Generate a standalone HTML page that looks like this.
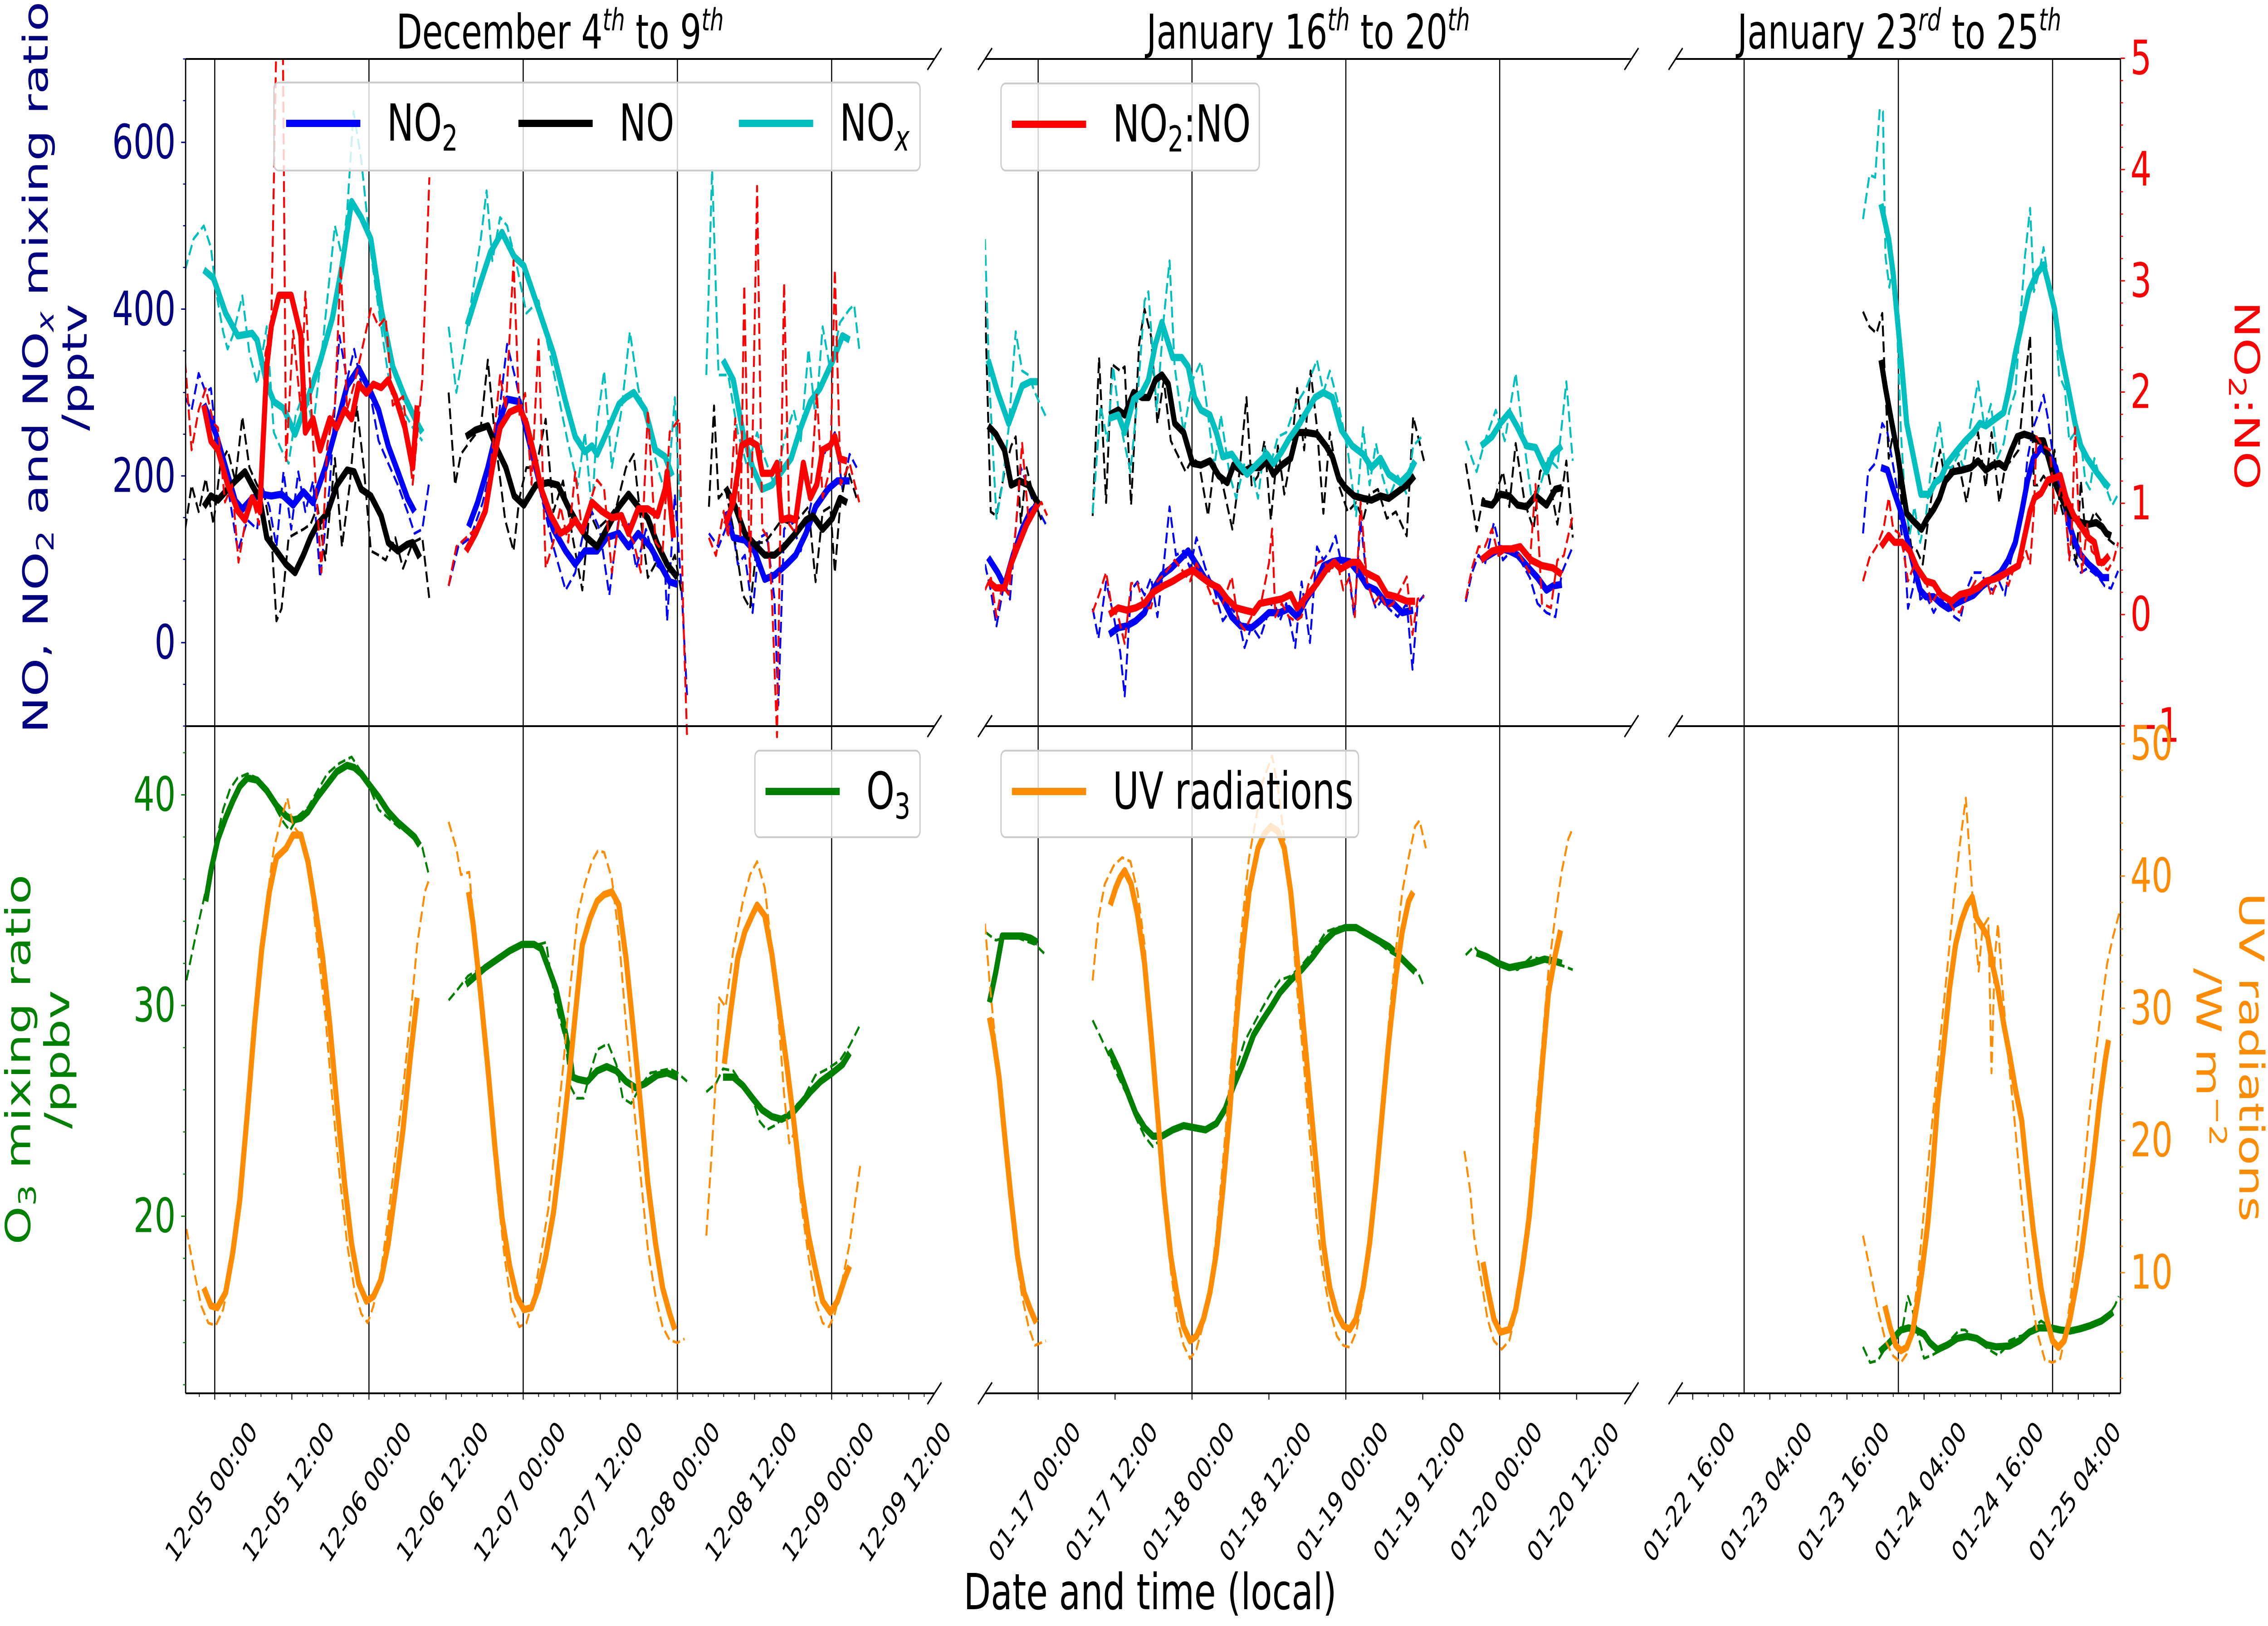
<!DOCTYPE html>
<html><head><meta charset="utf-8"><style>
html,body{margin:0;padding:0;background:#fff;overflow:hidden;width:100vw;height:100vh;}
svg{display:block;width:100vw;height:100vh;font-family:"DejaVu Sans","Liberation Sans",sans-serif;}
</style></head><body>
<svg id="chart" xmlns="http://www.w3.org/2000/svg" viewBox="0 0 7087 3585" preserveAspectRatio="none">
<defs>
<clipPath id="c1"><rect x="580" y="130" width="2340" height="2942"/></clipPath>
<clipPath id="c2"><rect x="3078" y="130" width="2020" height="2942"/></clipPath>
<clipPath id="c3"><rect x="5236" y="130" width="1390" height="2942"/></clipPath>
</defs>
<g id="grid"></g>
<g id="series"></g>
<g id="axes"></g>
<g font-size="105" fill="#000" text-anchor="middle">
<text x="1750" y="107">December 4<tspan dy="-40" font-size="68" font-style="italic">th</tspan><tspan dy="40"> to 9</tspan><tspan dy="-40" font-size="68" font-style="italic">th</tspan></text>
<text x="4088" y="107">January 16<tspan dy="-40" font-size="68" font-style="italic">th</tspan><tspan dy="40"> to 20</tspan><tspan dy="-40" font-size="68" font-style="italic">th</tspan></text>
<text x="5935" y="107">January 23<tspan dy="-40" font-size="68" font-style="italic">rd</tspan><tspan dy="40"> to 25</tspan><tspan dy="-40" font-size="68" font-style="italic">th</tspan></text>
</g>
<g font-size="108">
<text transform="translate(149,810) rotate(-90)" text-anchor="middle" fill="#000080">NO, NO<tspan font-size="75" dy="18">2</tspan><tspan dy="-18"> and NO</tspan><tspan font-size="75" font-style="italic" dy="18">x</tspan><tspan dy="-18"> mixing ratio</tspan></text>
<text transform="translate(271,810) rotate(-90)" text-anchor="middle" fill="#000080">/pptv</text>
<text transform="translate(94,2336) rotate(-90)" text-anchor="middle" fill="#008000">O<tspan font-size="75" dy="18">3</tspan><tspan dy="-18"> mixing ratio</tspan></text>
<text transform="translate(216,2336) rotate(-90)" text-anchor="middle" fill="#008000">/ppbv</text>
<text transform="translate(6983,872) rotate(90)" text-anchor="middle" fill="#ff0000">NO<tspan font-size="75" dy="18">2</tspan><tspan dy="-18">:NO</tspan></text>
<text transform="translate(6998,2331) rotate(90)" text-anchor="middle" fill="#ff8c00">UV radiations</text>
<text transform="translate(6864,2331) rotate(90)" text-anchor="middle" fill="#ff8c00">/W m<tspan font-size="75" dy="-40">−2</tspan></text>
<text x="3594" y="3548" text-anchor="middle" fill="#000" font-size="110">Date and time (local)</text>
</g>
<g id="legends"></g>
</svg>
<script>
// ---- data: [hours since panel reference midnight, value], null = gap ----
const p1_nox=[[-1.7,447],[-0.2,437],[1.7,395],[3.6,368],[5.8,371],[6.6,363],[8.1,310],[9.2,289],[10.7,281],[12.5,250],[14.1,284],[16.4,337],[18.3,389],[19.8,452],[21.3,529],[22.8,510],[24.3,484],[25.9,400],[27.7,331],[29.6,294],[31.5,263],[32.3,252],null,[39.3,381],[40.9,421],[42.9,468],[44.7,492],[46.6,463],[48.1,452],[50.4,400],[52.7,347],[54.6,289],[56.1,247],[57.6,229],[58.7,236],[59.5,226],[61,252],[62.9,286],[64,294],[65.2,300],[67,279],[68.6,231],[70.1,223],[71.2,200],null,[79.1,339],[80.7,315],[82.2,252],[83.7,210],[85.2,184],[86.7,189],[88.2,205],[89.7,221],[91.2,258],[92.7,289],[94.2,305],[96.1,337],[97.7,368],[98.8,363]];
const p1_no2=[[-1.7,286],[0.2,250],[1.7,210],[3.2,170],[4.3,160],[5.8,173],[7.3,178],[8.8,176],[10.4,178],[12.2,165],[13.8,181],[15.3,168],[17.2,210],[18.7,252],[20.6,308],[22.4,329],[24,305],[25.5,279],[27,236],[28.5,205],[30,173],[31.1,157],null,[39.5,139],[40.9,168],[42.5,210],[44,258],[45.5,292],[47.4,289],[48.9,242],[50.8,184],[52.7,136],[54.6,110],[56.1,94],[57.6,110],[59.5,110],[61,126],[62.9,131],[64.4,115],[65.9,131],[67.8,115],[69.3,94],[70.8,73],[72,70],null,[79.5,157],[80.7,126],[82.5,123],[84,110],[85.6,76],[87.1,81],[89,94],[90.4,105],[92,131],[93.5,163],[95.4,184],[96.9,194],[98.8,194]];
const p1_no=[[-1.7,163],[-0.6,176],[0.5,171],[2,184],[3.2,194],[4.7,205],[5.8,189],[7,173],[8.1,126],[9.6,110],[11.1,94],[12.5,84],[13.8,105],[14.9,126],[16,142],[17.5,155],[19,189],[20.6,207],[21.7,205],[22.8,184],[24.3,176],[25.9,152],[27,120],[28.5,110],[30,118],[30.8,120],[31.9,102],null,[39.1,247],[40.6,255],[42.5,260],[44,231],[45.3,210],[46.6,176],[48.1,165],[50,189],[51.9,192],[53.4,189],[55,163],[56.5,142],[57.9,126],[59.5,115],[61,136],[62.9,163],[64.4,178],[65.9,163],[67.4,149],[68.9,118],[70.4,94],[72,78],null,[79.5,186],[81,163],[82.5,131],[84,118],[85.6,105],[87.1,105],[88.6,115],[90.4,131],[92,147],[93.1,152],[94.6,136],[96.1,149],[97.3,173],[98.4,168]];
const p1_ratio=[[-1.7,1.88],[-0.6,1.56],[0.5,1.48],[2,1.17],[3.6,0.93],[4.7,0.85],[5.8,1.05],[7,0.93],[8.1,2.23],[8.8,2.59],[10,2.87],[11.9,2.87],[13.4,2.51],[14.1,1.64],[15.3,1.76],[16.4,1.48],[17.9,1.76],[19,1.68],[20.2,1.84],[21.3,1.76],[22.4,2.07],[23.6,1.99],[24.7,2.07],[25.9,2.04],[27,2.11],[28.1,1.96],[29.6,1.68],[30.8,1.32],[31.5,1.88],null,[39.1,0.57],[40.6,0.73],[42.1,0.93],[43.2,1.32],[44.4,1.68],[45.9,1.82],[47.4,1.86],[48.5,1.72],[49.7,1.44],[50.8,1.13],[52.3,0.89],[53.8,0.73],[55,0.77],[56.1,0.85],[57.2,0.75],[58.7,1.01],[60.2,0.93],[61.8,0.87],[63.3,0.89],[64.4,0.73],[65.9,0.95],[67.4,0.95],[68.9,0.89],[70.1,1.13],[70.4,1.28],[71.4,0.69],null,[79.5,0.81],[80.7,1.01],[82,1.52],[83.3,1.56],[84.4,1.52],[85.2,1.27],[86.7,1.27],[87.5,1.36],[88.2,0.85],[89.4,0.87],[90.4,0.85],[91.6,1.36],[92.7,1.05],[93.7,1.17],[94.6,1.48],[95.8,1.52],[96.5,1.6],[97.3,1.4],[98.4,1.38]];
const p1_nox_d=[[-4.6,447],[-3.3,484],[-1.7,500],[-0.6,474],[0.2,421],[1.3,373],[2,352],[2.8,368],[4.3,416],[5.4,347],[6.6,310],[8.1,379],[9.2,252],[10.4,231],[11.5,215],[12.6,273],[14.1,305],[15.3,258],[16.8,358],[18.7,500],[19.8,463],[20.6,516],[21.6,637],[22.8,579],[24.3,468],[25.5,400],[27,321],[28.9,284],[30.8,258],[32.3,242],null,[36.4,379],[37.6,300],[39.1,368],[41.4,484],[42.3,542],[43.2,458],[44.4,510],[45.5,500],[47,452],[48.5,395],[50.4,410],[52.7,326],[54.9,242],[56.5,189],[57.6,252],[58.7,157],[59.5,263],[60.6,326],[61.8,210],[63.3,279],[64.6,373],[65.9,305],[67.4,258],[68.9,210],[70.4,173],[71.6,294],[72.4,163],null,[76.5,321],[77.4,568],[78.4,321],[79.9,321],[81.4,252],[82.9,210],[84.4,252],[85.6,221],[87.1,189],[88.6,242],[90.1,279],[91.2,242],[92.4,352],[93.5,268],[94.6,379],[95.8,326],[97.3,384],[98.8,400],[99.5,405],[100.3,352]];
const p1_no2_d=[[-4.6,294],[-3.6,279],[-2.5,323],[-1.4,300],[-0.6,305],[0.5,226],[2,189],[3.6,110],[5.1,147],[6.6,136],[7.3,189],[8.5,163],[9.6,115],[10.7,205],[11.9,136],[13,205],[14.1,157],[15.3,194],[16.4,78],[17.9,189],[19.4,368],[20.6,315],[21.7,352],[22.8,310],[24.3,294],[25.5,242],[27,215],[28.5,189],[30,157],[31.1,131],[32.3,136],[33.4,194],null,[36.4,68],[37.9,115],[39.8,126],[41.7,168],[43.6,231],[45.5,358],[47,310],[48.5,252],[50.4,189],[52.7,115],[54.6,63],[56.1,84],[57.2,126],[58.7,157],[59.9,136],[61.4,57],[62.9,152],[64.4,142],[65.6,89],[67.1,136],[68.6,94],[70.1,84],[70.4,26],[71.6,178],[72.7,57],[73.5,-64],null,[76.9,131],[78.4,115],[80.3,152],[81.4,94],[82.5,105],[83.7,36],[84.8,126],[85.9,131],[87.1,52],[87.7,-75],[88.6,136],[89.7,147],[91.2,110],[92.7,163],[94.2,215],[95.4,236],[96.5,252],[97.7,184],[98.8,226],[99.9,210]];
const p1_no_d=[[-4.6,136],[-3.6,189],[-2.5,157],[-1.4,197],[-0.2,142],[0.9,215],[2,231],[3.2,194],[4.3,271],[5.4,210],[6.6,189],[7.7,178],[8.8,131],[9.6,26],[10.4,41],[11.5,126],[12.6,131],[13.8,136],[14.9,142],[16,163],[17.2,99],[18.7,221],[19.8,115],[21,189],[22.1,284],[23.2,210],[24.3,110],[25.5,105],[26.6,99],[28.1,126],[29.3,89],[30.8,120],[32.3,126],[33.4,52],null,[36.4,300],[37.4,189],[38.3,226],[39.8,242],[41.4,258],[42.5,339],[43.6,247],[45.2,147],[46.5,110],[47.4,173],[48.5,210],[50,210],[51.5,268],[52.7,157],[54.2,194],[55.7,126],[57.2,63],[58.3,157],[59.5,136],[61,147],[62.5,163],[64,210],[65.2,226],[66.3,147],[67.4,78],[68.9,99],[70.4,84],[71.6,105],[72.7,57],null,[76.9,163],[77.7,284],[78.4,173],[79.5,184],[80.7,136],[82.2,57],[83.3,41],[84.4,120],[85.6,120],[86.7,131],[88.2,147],[89.7,142],[91.2,152],[92.4,163],[93.5,73],[94.6,157],[95.8,163],[96.5,84],[97.3,163],[98.4,210],[99.9,173]];
const p1_ratio_d=[[-4.6,2.27],[-3.6,1.48],[-2.5,1.84],[-1.4,2.03],[-0.2,1.72],[0.5,1.68],[1.6,1.01],[2.7,1.17],[3.7,0.47],[4.7,0.81],[5.8,1.05],[6.9,0.81],[7.9,2.35],[8.8,2.59],[9.6,5.2],[10.6,5.2],[11.1,1.36],[12.2,2.55],[13.4,1.84],[14.1,2.9],[15.3,1.56],[16.6,0.38],[17.5,1.52],[18.7,1.88],[19.6,3.14],[20.6,1.84],[21.7,2.07],[22.8,2.35],[24.3,2.75],[25.5,2.59],[26.6,2.67],[27.7,1.88],[29.3,1.96],[30.8,1.17],[32.3,2.11],[33.4,3.93],null,[36.4,0.26],[37.6,0.61],[39.1,0.69],[40.6,0.77],[42.1,0.93],[43.2,1.48],[44.4,2.15],[45.3,1.84],[46.5,3.18],[47.4,1.8],[48.3,1.99],[49.3,1.17],[50.4,2.47],[51.5,0.42],[52.7,0.65],[53.8,0.97],[55,0.65],[56.1,1.28],[57.2,0.73],[58.4,1.01],[59.5,1.21],[60.6,1.13],[61.8,0.38],[62.9,0.85],[64,0.77],[65.2,0.65],[66.3,0.38],[67.4,1.84],[68.6,0.65],[69.7,0.57],[70.8,1.64],[72.3,1.76],[72.9,0.02],[73.5,-1.1],null,[76.9,0.69],[78,0.53],[79.2,0.93],[79.9,0.69],[81,1.76],[81.8,0.69],[82.4,2.96],[83.3,0.3],[84.4,3.85],[85.2,0.77],[86.1,0.69],[86.7,0.18],[87.5,-1.1],[88.6,2.98],[89.4,0.81],[90.4,0.73],[91.6,1.36],[92.7,1.09],[93.7,1.99],[94.6,1.05],[95.8,1.32],[96.5,3.1],[97.4,1.17],[98.8,1.36],[100.3,1.01]];
const p1_o3=[[-1.4,34.95],[-0.6,36.4],[0.5,37.9],[1.7,38.9],[2.8,39.7],[3.9,40.4],[5.1,40.8],[6.6,40.7],[8.1,40.2],[9.6,39.5],[11.1,39],[12.2,38.8],[13.4,38.9],[14.5,39.2],[16,39.9],[17.5,40.5],[19,41.1],[20.6,41.4],[21.7,41.3],[22.8,41],[24,40.5],[25.5,39.9],[27,39.2],[28.5,38.7],[30,38.3],[31.1,38],[31.9,37.6],null,[39.1,31],[40.6,31.4],[42.1,31.8],[44,32.2],[45.9,32.6],[47.8,32.9],[49.7,32.9],[50.8,32.7],[51.9,31.8],[53.1,30.8],[54.2,29.3],[55.3,27.6],[55.7,26.6],[56.5,26.5],[58,26.4],[59.5,26.9],[61,27.1],[62.5,26.9],[64,26.4],[65.5,26.1],[67,26.3],[68.9,26.7],[70.4,26.8],[72,26.6],null,[79.1,26.6],[80.7,26.6],[82.2,26.2],[83.7,25.6],[85.2,25.04],[86.7,24.73],[88.2,24.6],[89.7,24.83],[91.2,25.35],[92.7,25.9],[94.3,26.4],[96.1,26.8],[97.7,27.2],[98.8,27.75]];
const p1_o3_d=[[-4.4,31.2],[-3.25,32.9],[-2.1,34.5],[-1,36],[0.15,37.7],[1.3,39.3],[2.4,40.3],[3.55,40.8],[5.1,41],[6.6,40.8],[8.1,40.2],[9.6,39.3],[10.7,38.7],[11.7,38.3],[13,39],[14.5,39.4],[16,40.2],[17.5,41],[19.4,41.5],[21.3,41.8],[22.8,41.1],[24.3,40.2],[25.5,39.3],[27,38.9],[28.9,38.4],[30.8,38.1],[32.3,37.5],[33.4,36.1],null,[36.4,30.25],[37.9,30.8],[39.4,31.4],[41,31.7],[42.9,32],[44.7,32.4],[46.6,32.8],[48.5,32.9],[50.4,32.9],[51.6,33],[52.3,31.4],[53.4,29.7],[54.6,28.3],[55.3,26.2],[56.3,25.6],[57.4,25.6],[58.4,26.8],[59.5,27.9],[61.2,28.2],[62.5,27.2],[63.5,25.6],[64.8,25.35],[66.3,26.2],[67.8,26.8],[69.3,26.9],[70.8,27],[72,26.8],[73.5,26.4],null,[76.5,25.9],[78,26.3],[79.1,27],[80.7,26.9],[82.2,26.2],[83.7,25.6],[84.8,24.5],[85.9,24.1],[87.1,24.3],[88.6,24.7],[90.1,25.15],[91.6,25.6],[93.5,26.7],[95.4,27],[97.3,27.4],[98.8,28.1],[100.3,29]];
const p1_uv=[[-1.7,8.85],[-0.6,7.5],[0.4,7.35],[1.7,8.5],[2.8,11.5],[3.9,15.5],[5.1,22.2],[6.2,28.8],[7.3,34.4],[8.5,38.8],[9.6,41.4],[11.1,42.1],[12.2,43.1],[13.4,43.1],[14.5,41.1],[15.6,37.8],[16.8,33.8],[17.9,28.8],[19,22.8],[20.2,16.8],[21.3,12.2],[22.4,9.2],[23.6,7.85],[24.7,8.2],[25.9,9.5],[27,12.2],[28.1,16.2],[29.3,20.8],[30.4,26.1],[31.5,30.8],null,[39.5,38.8],[40.2,36.4],[41.3,31.45],[42.5,25.5],[43.6,19.5],[44.7,14.2],[45.9,10.5],[47,8.2],[48.1,7.2],[49.3,7.35],[50.4,8.85],[51.5,11.2],[52.7,14.5],[53.8,18.8],[55,24.1],[56.1,29.5],[57.2,34.8],[58.4,36.8],[59.5,38.1],[60.6,38.6],[61.8,38.8],[62.9,37.8],[64,33.8],[65.2,28.1],[66.3,22.5],[67.4,16.8],[68.6,12.2],[69.7,8.85],[70.8,6.9],[71.6,5.7],null,[79.3,25.8],[80.3,29.8],[81.4,33.8],[82.5,35.8],[83.7,37.1],[84.4,37.8],[85.6,37],[86.7,34.1],[87.8,30.1],[89,25.8],[90.1,21.5],[91.2,16.8],[92.4,12.8],[93.5,10.2],[94.6,7.85],[95.8,7],[96.9,7.85],[98,9.5],[98.8,10.5]];
const p1_uv_d=[[-4.4,13.3],[-3.25,10.2],[-2.1,7.5],[-1,6.2],[0.15,6],[1.3,7.2],[2.4,9.8],[3.55,14.5],[4.7,20.2],[5.8,25.8],[6.95,32.1],[8.1,38.1],[9.2,42.1],[10.4,44.4],[11.3,45.9],[12.2,43.8],[13.8,42.8],[14.9,39.4],[16,34.8],[17.2,29.5],[18.3,23.1],[19.4,17.5],[20.6,12.2],[21.7,8.85],[22.8,6.9],[23.8,6.2],[24.7,7.5],[25.9,10.2],[27,14.2],[28.1,18.8],[29.3,23.8],[30.4,29.1],[31.5,34.8],[32.7,38.8],[33.4,39.8],null,[36.4,44.1],[37.6,42.1],[38.3,40.1],[39.6,40.3],[40.6,34.8],[41.7,28.8],[42.9,22.2],[44,16.2],[45.1,11.2],[46.3,7.2],[47.4,5.9],[48.5,6.2],[49.7,8.2],[50.8,11.5],[51.9,14.8],[53.1,20.2],[54.2,25.5],[55.3,31.45],[56.5,37.1],[57.6,39.4],[58.7,41.1],[59.6,41.9],[60.6,41.8],[61.8,39.8],[62.9,35.4],[64,28.8],[65.2,22.8],[66.3,17.2],[67.4,11.8],[68.6,8.2],[69.7,5.9],[70.8,4.9],[72,4.7],[73.1,5],null,[76.5,12.8],[77.3,18.8],[78,24.8],[78.5,30.8],[79.5,30.1],[80.7,34.4],[82.2,38.1],[83.3,40.1],[84.4,41.1],[85.6,39.1],[86.7,34.4],[87.8,28.8],[88.6,23.5],[89.4,19.8],[90.1,20.5],[91.2,15.5],[92.4,11.2],[93.5,7.85],[94.6,6.2],[95.6,5.9],[96.5,6.9],[97.7,9.5],[98.8,12.2],[99.7,15.5],[100.5,18.3]];

const p2_nox=[[-7.8,339],[-6.3,300],[-4.6,263],[-2.5,308],[-1.2,313],[-0.1,313],null,[11.1,269],[12.5,273],[13.5,252],[14.9,292],[16.2,300],[17.2,315],[18.3,358],[19.3,384],[21,342],[22.4,342],[23.4,331],[24.4,294],[25.4,279],[26.8,273],[27.8,252],[28.8,223],[30.2,226],[31.2,215],[32.6,202],[34,213],[35.7,226],[36.7,215],[38,229],[39.1,244],[40.4,258],[41.8,276],[43.2,294],[44.5,300],[45.9,294],[47.3,255],[49,236],[50.7,226],[52,210],[53.4,221],[54.7,202],[56.5,192],[57.8,202],[58.8,218],null,[69.1,236],[70.8,247],[72.1,263],[73.5,276],[74.8,258],[76.2,236],[77.6,234],[79.3,205],[80.3,226],[81.7,236]];
const p2_no=[[-7.8,260],[-6.6,250],[-5.25,231],[-4.2,189],[-2.9,194],[-1.5,189],[-0.5,173],[0.2,165],null,[11.1,273],[12.5,279],[13.5,273],[14.9,300],[16.2,294],[17.2,294],[18.3,315],[19.3,321],[20.3,310],[21.3,263],[22.7,252],[24.1,215],[25.4,213],[26.8,218],[28.2,200],[29.5,192],[30.5,213],[31.9,205],[33.3,210],[34.6,210],[35.7,218],[36.7,202],[38,213],[39.4,221],[40.4,252],[41.8,252],[43.5,250],[44.9,236],[45.9,223],[46.9,197],[47.9,186],[49.3,176],[50.7,173],[52,171],[53.4,176],[54.7,173],[56.1,181],[57.5,189],[58.7,200],null,[69.1,168],[70.8,165],[72.1,178],[73.5,176],[74.8,165],[76.2,163],[77.6,176],[79.3,165],[80.7,184],[81.7,186]];
const p2_no2=[[-7.8,102],[-6.3,84],[-5.25,68],[-3.9,105],[-2.5,136],[-1.2,157],[-0.1,165],null,[11.1,10],[12.5,18],[13.8,20],[15.2,26],[16.6,36],[17.9,63],[19.3,81],[20.7,89],[22,99],[23.4,110],[24.7,94],[26.1,76],[27.5,68],[28.8,52],[30.2,31],[31.6,20],[33.3,18],[34.6,26],[36,36],[37.7,36],[39.1,41],[40.4,31],[41.8,52],[43.2,68],[44.5,92],[45.9,97],[47.2,99],[48.6,97],[50,84],[51.3,68],[52.7,63],[54.1,49],[55.4,47],[56.8,36],[58.5,39],null,[69.1,99],[70.8,107],[72.1,113],[73.5,110],[74.8,105],[76.6,89],[77.9,78],[79.3,63],[80.3,68],[81.7,70]];
const p2_ratio=[[-7.8,0.3],[-6.6,0.24],[-5.25,0.24],[-4.2,0.46],[-3.2,0.61],[-1.8,0.81],[-0.1,0.99],null,[11.1,0],[12.5,0.06],[13.8,0.04],[15.2,0.06],[16.6,0.1],[17.9,0.2],[19.6,0.26],[21,0.3],[22.7,0.36],[24.1,0.4],[25.4,0.34],[26.8,0.28],[28.2,0.24],[29.5,0.14],[30.9,0.06],[32.2,0.04],[33.6,0.02],[34.6,0.1],[36.3,0.12],[38,0.14],[39.4,0.18],[40.4,0.06],[41.8,0.16],[43.5,0.28],[44.9,0.4],[46.2,0.47],[47.2,0.41],[49,0.47],[50,0.47],[51,0.38],[53,0.32],[54.4,0.18],[55.8,0.16],[57.5,0.12],[58.8,0.12],null,[69.1,0.49],[70.8,0.57],[72.1,0.59],[73.8,0.59],[75.2,0.61],[76.9,0.49],[78.6,0.44],[80.3,0.42],[81.7,0.36]];
const p2_nox_d=[[-8.3,484],[-7.6,310],[-6.5,149],[-5.6,189],[-4.6,258],[-3.5,373],[-2.5,326],[-1.5,321],[-0.5,300],[0.3,286],[1.4,268],null,[8.5,155],[9.75,284],[10.8,242],[11.7,331],[12.8,263],[14.4,205],[15.5,294],[16.6,410],[17.2,421],[18.5,279],[19.6,389],[20.5,458],[21.3,331],[22.7,252],[24.1,315],[25.4,337],[26.5,273],[27.5,210],[28.5,273],[29.9,200],[30.9,173],[32.2,215],[33.3,210],[34.3,173],[35.3,236],[36.3,215],[37.4,247],[38.7,252],[40.1,284],[41.8,305],[43.5,339],[44.5,300],[45.5,326],[46.9,284],[48.3,231],[49.6,152],[50.7,258],[51.7,189],[52.7,239],[53.7,200],[54.7,173],[56.1,200],[57.5,178],[58.5,236],[60.2,250],null,[66.7,242],[68.4,205],[69.7,242],[71.4,279],[72.8,242],[74.5,323],[75.5,258],[76.9,178],[77.9,178],[79.6,221],[81,210],[82.4,313],[83.4,218]];
const p2_no_d=[[-8.3,410],[-7.4,157],[-6.5,152],[-5.25,205],[-4.2,236],[-3.5,247],[-2.7,144],[-1.8,210],[-0.5,168],[0.5,147],null,[8.5,152],[9.5,342],[10.6,168],[11.5,334],[12.8,326],[13.5,331],[14.5,165],[15.75,358],[16.6,400],[17.6,368],[18.6,263],[19.6,315],[20.7,242],[21.7,226],[23,205],[24.1,221],[25.1,215],[26.5,152],[27.5,215],[28.8,189],[30.3,136],[31.2,189],[32.5,294],[33.3,189],[34.3,200],[35.3,242],[36.3,147],[37.4,236],[38.4,178],[39.4,221],[40.4,305],[41.5,231],[42.5,326],[43.5,258],[44.5,155],[45.5,252],[46.9,189],[48.3,157],[49.6,168],[50.7,147],[51.7,178],[53,184],[54.4,149],[55.8,157],[57.5,128],[58.5,271],[60.2,218],null,[66.7,215],[68.4,134],[69.4,173],[70.8,163],[72.5,205],[73.5,163],[74.5,239],[75.9,168],[77.3,136],[78.3,205],[79.3,215],[81,142],[82.4,218],[83.4,126]];
const p2_no2_d=[[-8.3,94],[-7.4,63],[-6.5,20],[-5.25,73],[-4.4,52],[-3.5,136],[-2.7,210],[-1.7,189],[-0.5,163],[0.5,152],[1.4,139],null,[8.5,41],[9.4,5],[10.6,73],[11.8,31],[12.8,-11],[13.5,-64],[14.5,63],[15.5,73],[16.6,57],[17.6,78],[18.6,31],[19.6,94],[20.5,163],[21.5,105],[22.7,110],[23.7,89],[24.7,126],[26.1,89],[27.5,63],[28.8,26],[30.2,41],[31.2,31],[32.2,-6],[33.3,20],[34.6,5],[35.7,31],[36.7,52],[37.7,26],[38.7,47],[40.1,-6],[41.1,73],[42.4,0],[43.5,115],[44.5,99],[45.5,110],[46.4,128],[47.2,99],[48.3,94],[49.3,31],[50.3,147],[51.3,73],[52.7,41],[53.7,52],[54.7,41],[56.1,31],[57.5,47],[58.4,-32],[59.2,47],[60.2,57],null,[66.7,49],[67.7,84],[68.7,105],[69.7,94],[71.1,144],[72.5,99],[73.8,110],[75.2,99],[76.7,78],[77.9,47],[79.3,36],[80.7,31],[81.7,84],[83.4,115]];
const p2_ratio_d=[[-8.3,0.22],[-7.4,0.34],[-6.5,-0.02],[-5.6,0.26],[-4.6,0.18],[-3.5,0.77],[-2.5,1.54],[-1.5,0.85],[-0.5,0.93],[0.5,1.01],[1.4,0.89],null,[8.5,0.02],[9.5,0.18],[10.6,0.38],[11.5,0.06],[12.5,-0.02],[13.5,-0.26],[14.5,0.28],[15.5,0.28],[16.6,0.06],[17.6,0.06],[18.6,0.3],[19.9,0.38],[21.3,0.49],[22.7,0.38],[23.7,0.3],[24.7,0.46],[26.1,0.3],[27.5,0.1],[28.8,0.1],[30.2,0.34],[31.2,-0.06],[32.2,-0.14],[33.6,0.02],[34.9,0.14],[36,0.46],[36.5,0.77],[37,-0.02],[38,0.1],[39.1,-0.02],[40.1,-0.06],[41.1,-0.02],[42.1,0.26],[43.5,0.46],[44.5,0.49],[45.5,0.38],[46.6,0.49],[47.6,0.22],[48.6,0.34],[49.4,-0.02],[50.3,1.01],[51.3,0.3],[52.4,0.1],[53.4,0.18],[54.4,0.06],[55.4,0.1],[56.5,0.22],[57.5,0.34],[58.4,-0.18],[59.2,0.14],[60.2,0.16],null,[66.7,0.14],[67.7,0.42],[68.7,0.61],[69.7,0.61],[70.8,0.77],[71.8,0.53],[72.8,0.57],[74.2,0.57],[75.2,0.53],[76.6,0.38],[77.6,1.17],[78.6,0.1],[80,0.06],[81,0.49],[82,0.53],[83.4,0.89]];
const p2_o3=[[-7.6,30.15],[-6.6,31.6],[-5.6,33.3],[-4.2,33.3],[-2.5,33.3],[-1.2,33.2],[-0.1,33],null,[11.1,27.9],[12.5,27],[13.8,26],[15.2,24.9],[16.6,24.2],[17.9,23.8],[19.3,23.8],[21,24.1],[22.7,24.3],[24.4,24.2],[26.1,24.1],[27.8,24.4],[29.2,25.1],[30.5,26.2],[31.9,27.2],[33.6,28.6],[35,29.3],[36.3,29.9],[37.7,30.6],[39.4,31.2],[41.1,31.7],[42.8,32.3],[44.5,33],[46.2,33.5],[47.9,33.7],[49.6,33.7],[51.3,33.4],[53,33.1],[54.7,32.8],[56.5,32.3],[57.8,31.9],[58.8,31.6],null,[68.4,32.5],[70.1,32.3],[71.8,32],[73.5,31.8],[75.2,31.9],[76.9,32],[79,32.2],[80.7,32.1],[81.7,32]];
const p2_o3_d=[[-8.3,33.5],[-6.6,33.1],[-5.25,33.2],[-3.9,33.3],[-2.2,33.1],[-0.5,32.9],[1.2,32.4],null,[8.5,29.3],[9.75,28.5],[11.1,27.6],[12.5,26.6],[13.8,25.8],[15.2,24.7],[16.6,23.8],[17.9,23.3],[19.3,23.7],[21,24.2],[22.7,24.4],[24.4,24.2],[26.1,24.2],[27.8,24.3],[29.5,25.35],[30.9,27],[32.2,28.3],[33.6,29.1],[35,29.9],[36.3,30.6],[37.7,31.2],[39.4,31.4],[41.1,31.9],[43.2,32.7],[44.9,33.5],[46.6,33.7],[48.3,33.8],[50,33.5],[51.7,33.3],[53.4,32.9],[55.1,32.5],[56.8,32.2],[58.2,31.9],[59.2,31.6],[60.2,30.9],null,[66.7,32.4],[68,32.8],[69.4,32.3],[71.1,32.1],[72.8,31.8],[74.8,31.7],[76.9,32.3],[78.6,32.2],[80,32.2],[81.7,31.9],[83.4,31.7]];
const p2_uv=[[-7.6,29.3],[-7,27.8],[-6.1,24.8],[-5.25,20.5],[-4.2,15.5],[-3.2,11.2],[-2.2,8.5],[-1.2,7.2],[-0.3,6.2],null,[11.25,37.8],[12.1,39.1],[12.8,39.9],[13.5,40.4],[14.5,39.4],[15.5,37.1],[16.6,33.4],[17.6,28.1],[18.6,22.2],[19.6,16.2],[20.7,11.2],[21.7,8.2],[22.7,5.9],[23.7,4.85],[24.7,5.2],[25.8,6.5],[26.8,8.5],[27.8,11.5],[28.8,16.2],[29.9,22.2],[30.9,28.8],[31.9,34.4],[32.9,38.8],[34.3,42.1],[35.3,43.2],[36.3,43.75],[37.4,43.4],[38.4,42.1],[39.4,38.8],[40.4,33.8],[41.5,28.1],[42.5,22.8],[43.5,17.5],[44.5,12.2],[45.5,8.85],[46.6,6.9],[47.6,6],[48.6,5.7],[49.6,6.5],[50.7,8.85],[51.7,12.2],[52.7,16.8],[53.7,22.2],[54.7,27.5],[55.8,32.4],[56.8,35.8],[57.8,38.1],[58.5,38.8],null,[69.4,10.8],[70.1,8.85],[71.1,6.5],[72.1,5.5],[73.5,5.7],[74.5,7.2],[75.5,10.2],[76.6,14.2],[77.6,19.5],[78.6,25.5],[79.6,31.1],[80.7,34.1],[81.5,35.9]];
const p2_uv_d=[[-8.3,36.4],[-7.6,32.1],[-6.6,27.1],[-5.6,22.2],[-4.6,16.2],[-3.5,11.5],[-2.5,8.2],[-1.5,5.9],[-0.5,4.5],[1.2,4.85],null,[8.5,32.1],[9.4,36.8],[10.4,39.4],[11.8,40.8],[13.1,41.4],[14.4,41.1],[15.5,38.8],[16.6,34.8],[17.6,28.8],[18.6,22.2],[19.6,15.5],[20.7,10.2],[21.7,6.5],[22.7,4.5],[23.7,3.5],[24.7,4.2],[25.8,6.2],[26.8,8.85],[27.8,12.8],[28.8,18.2],[29.9,24.5],[30.9,30.8],[31.9,36.8],[32.9,41.4],[34,44.4],[35,47.1],[36,48.4],[36.5,49.1],[37.4,46.7],[38.4,42.8],[39.4,37.8],[40.4,31.45],[41.5,25.5],[42.5,19.5],[43.5,13.8],[44.5,9.85],[45.5,7.2],[46.6,5.2],[47.6,4.5],[48.6,4.35],[49.6,5.5],[50.7,8.2],[51.7,12.2],[52.7,17.2],[53.7,22.8],[54.7,28.8],[55.8,34.4],[56.8,38.8],[57.8,41.4],[58.8,43.75],[59.5,44.2],[60.5,42.1],null,[66.5,19.2],[67.4,16.2],[68,12.8],[69.1,9.5],[70.1,6.5],[71.1,4.85],[72.3,4.2],[73.5,4.85],[74.5,6.9],[75.5,10.5],[76.6,15.5],[77.6,21.5],[78.6,27.1],[79.6,32.8],[80.7,37.1],[81.7,40.4],[82.7,42.8],[83.4,43.6]];

const p3_nox=[[21.3,526],[22.5,484],[23.2,442],[23.7,400],[24.1,368],[24.6,326],[25.3,263],[26.4,221],[27.5,178],[28.8,178],[29.7,192],[30.6,197],[31.6,215],[33,229],[34.4,242],[35.7,252],[36.7,263],[37.6,260],[39,268],[40.4,276],[41.1,300],[42.2,347],[43.4,389],[44.3,421],[45.5,442],[46.6,453],[47.3,432],[48.3,400],[49.2,352],[50.3,310],[51.5,263],[52.4,236],[53.4,221],[54.8,205],[55.9,194],[56.8,186]];
const p3_no=[[21.3,339],[22,305],[23,263],[23.9,226],[24.6,189],[25.3,155],[26.2,147],[27.6,136],[28.5,149],[29.5,160],[30.4,173],[31.3,194],[32.5,205],[33.9,207],[35.3,210],[36.4,218],[37.6,207],[38.7,213],[39.7,215],[40.6,210],[41.5,229],[42.5,247],[43.6,250],[44.8,247],[45.7,242],[46.6,242],[47.6,215],[48.5,189],[49.7,168],[51,152],[52.4,144],[53.6,142],[54.8,144],[55.7,139],[56.4,131],[57.1,128]];
const p3_no2=[[21.3,210],[22.3,207],[23.2,184],[24.4,157],[25.5,120],[26.5,89],[27.4,63],[28.3,55],[29.5,55],[30.6,47],[31.8,41],[33,47],[34.3,52],[35.7,57],[37.1,68],[38.5,76],[39.9,84],[41.1,99],[42.2,120],[43.2,157],[44.1,194],[45,221],[46.2,234],[47.3,226],[48.5,210],[49.7,173],[50.6,142],[51.5,120],[52.4,105],[53.6,94],[54.8,86],[55.7,78],[56.8,78]];
const p3_ratio=[[21.3,0.61],[22.5,0.71],[23.4,0.65],[24.6,0.65],[25.8,0.57],[26.9,0.42],[28.3,0.3],[29.5,0.28],[30.6,0.18],[32.3,0.12],[33.6,0.18],[35,0.2],[36.4,0.24],[37.6,0.3],[39,0.32],[40.4,0.36],[41.5,0.4],[42.7,0.44],[43.6,0.69],[44.5,0.93],[45.2,1.05],[46.2,1.09],[47.3,1.21],[48.5,1.23],[49.2,1.25],[50.1,1.05],[51.3,0.89],[52.2,0.81],[53.6,0.69],[54.5,0.65],[55.2,0.47],[55.9,0.47],[56.8,0.53]];
const p3_nox_d=[[18.5,508],[19.5,561],[20.4,558],[21.1,640],[21.6,637],[22,463],[22.6,426],[23.2,458],[23.7,400],[24.4,252],[25.1,163],[25.8,131],[26.5,163],[27.4,120],[28.3,152],[29.1,210],[30.4,265],[31.3,210],[32.3,210],[33.4,226],[34.1,210],[35,252],[36.4,313],[37.4,258],[38.4,286],[39.4,221],[40.4,239],[41.3,279],[42.2,300],[42.9,379],[43.7,463],[44.5,521],[45.1,421],[46,447],[46.6,474],[47.3,437],[48.3,400],[49,321],[49.9,305],[50.6,242],[51.5,252],[52.4,242],[53.1,194],[53.8,184],[54.5,221],[55.5,194],[56.4,184],[57.3,165],[58.2,178]];
const p3_no_d=[[18.5,397],[19.5,379],[20.6,371],[21.5,395],[21.8,337],[22.5,221],[23.2,252],[23.9,215],[24.5,168],[25.3,157],[26,115],[26.9,110],[27.8,94],[28.8,157],[29.9,210],[30.5,231],[31.3,194],[32.3,210],[33.4,215],[34.6,168],[35.5,210],[36.4,252],[37.6,186],[38.5,252],[39.7,168],[40.6,210],[41.8,221],[42.7,231],[43.6,305],[44.5,368],[45.1,189],[45.7,189],[46.6,200],[47.6,189],[48.3,231],[49,173],[49.7,152],[50.5,157],[51.3,110],[51.7,94],[52.4,194],[53.1,131],[53.8,142],[54.5,157],[55.5,147],[56.4,126],[57.3,120],[58.2,115]];
const p3_no2_d=[[18.5,131],[19.3,205],[20.4,215],[21.5,263],[22.3,252],[23,221],[23.7,189],[24.4,136],[25,105],[25.5,41],[26.2,63],[26.9,94],[27.4,52],[28.3,57],[29.5,36],[30.6,52],[31.8,47],[32.7,31],[33.6,26],[34.6,63],[35.7,84],[36.9,84],[37.8,68],[38.7,63],[39.7,73],[40.6,57],[41.5,99],[42.5,126],[43.4,168],[44.1,221],[45,258],[45.7,273],[46.6,297],[47.3,268],[48.3,210],[49.2,189],[49.9,168],[50.6,105],[51.5,99],[52.4,84],[53.4,89],[54.3,84],[55.2,78],[56.1,68],[57.1,65],[58.2,86]];
const p3_ratio_d=[[18.5,0.3],[19.5,0.51],[20.6,0.61],[21.7,0.77],[22.5,1.05],[23.2,0.77],[24.1,0.73],[24.8,0.57],[25.5,0.3],[26.5,0.45],[27.4,0.34],[28.3,0.3],[29.2,0.1],[30.4,0.22],[31.6,0.14],[32.7,0.04],[33.6,0.02],[34.8,0.18],[36,0.3],[36.9,0.26],[37.8,0.3],[38.5,0.16],[39.4,0.3],[40.4,0.34],[41.1,0.26],[42,0.42],[42.9,0.45],[43.9,0.57],[44.5,0.45],[45.1,0.93],[45.5,1.6],[46.4,1.52],[47.6,1.48],[48.4,0.89],[49.2,1.13],[49.9,1.01],[50.6,0.49],[51,0.77],[51.5,1.68],[52,0.97],[52.6,0.38],[53.4,0.81],[54.1,0.57],[54.8,0.53],[55.7,0.44],[56.6,0.4],[57.5,0.49],[58.2,0.65]];
const p3_o3=[[21.1,13.57],[22.3,13.9],[23.5,14.3],[24.4,14.6],[25.6,14.7],[26.8,14.6],[28,14.4],[28.9,14],[30.1,13.67],[31.7,13.9],[33.2,14.2],[34.7,14.3],[36.2,14.2],[37.7,13.9],[39.2,13.8],[41.3,13.84],[42.9,14.1],[44.4,14.5],[45.9,14.7],[47.7,14.7],[49.2,14.6],[50.7,14.55],[52.2,14.65],[53.8,14.8],[55.6,15.03],[56.8,15.3],[57.4,15.45]];
const p3_o3_d=[[18.5,13.8],[19.6,13.05],[20.8,13.15],[22.3,13.9],[23.5,14.1],[24.6,14.6],[25.5,16.2],[26.2,15.55],[27.1,14.3],[28,13.25],[29.2,13.4],[30.8,13.67],[32.3,14.2],[33.5,14.6],[34.4,14.6],[35.6,14.3],[37.1,13.9],[38.6,13.57],[39.5,13.4],[40.4,13.67],[41.3,14.1],[42.9,14.3],[44.1,14.4],[45.3,14.8],[46.2,15.03],[47.4,14.8],[48.6,14.6],[50.1,14.6],[51.9,14.7],[53.8,14.8],[55.6,15.1],[56.8,15.34],[57.7,15.76],[58.3,16.2]];
const p3_uv=[[21.9,7.5],[22.7,5.9],[23.6,4.5],[24.4,4.1],[25.3,4.35],[26.2,5.5],[27,7.85],[27.7,10.2],[28.6,13.8],[29.4,18.2],[30.1,22.8],[31.05,27.1],[31.96,31.45],[32.9,34.8],[33.8,36.6],[34.7,37.8],[35.5,38.4],[36.2,36.8],[37.1,36.1],[37.9,35.4],[38.6,33.4],[39.5,31.45],[40.4,28.8],[41.3,26.5],[42.25,23.8],[43.2,21.5],[44.1,17.2],[45,13.2],[46.2,8.85],[47.1,6.5],[48,4.85],[48.9,4.35],[49.8,4.85],[50.7,6.5],[51.6,8.85],[52.5,11.5],[53.5,15.2],[54.4,18.8],[55.3,22.8],[56.2,26.1],[56.7,27.6]];
const p3_uv_d=[[18.5,12.8],[19.6,10.2],[20.8,7.2],[22,4.85],[23.2,3.7],[24.4,3.2],[25.3,3.85],[26.2,6.2],[27.1,9.85],[28,14.8],[28.9,19.5],[29.8,24.1],[30.75,28.8],[31.7,33.4],[32.6,38.1],[33.5,42.1],[34.1,44.4],[34.5,45.9],[35.3,40.1],[35.9,36.1],[36.5,32.8],[37.1,36.1],[38,36.8],[38.5,25.1],[39,33.8],[39.5,36.4],[40.1,32.1],[41,26.8],[41.95,22.2],[42.9,17.2],[43.8,12.2],[44.7,8.2],[45.6,5.5],[46.8,3.4],[48,3.2],[49.2,3.5],[50.1,5.5],[51,8.85],[51.9,12.8],[52.8,17.2],[53.75,22.2],[54.7,26.5],[55.6,30.1],[56.5,33.4],[57.4,35.4],[58.5,37.4]];

// ---- tick values / labels ----
const leftTopTicks=[0,200,400,600];
const rightTopTicks=[-1,0,1,2,3,4,5];
const leftBotTicks=[20,30,40];
const rightBotTicks=[10,20,30,40,50];
const p1TickHours=[0,12,24,36,48,60,72,84,96,108];
const p1TickLabels=["12-05 00:00","12-05 12:00","12-06 00:00","12-06 12:00","12-07 00:00","12-07 12:00","12-08 00:00","12-08 12:00","12-09 00:00","12-09 12:00"];
const p2TickHours=[0,12,24,36,48,60,72,84];
const p2TickLabels=["01-17 00:00","01-17 12:00","01-18 00:00","01-18 12:00","01-19 00:00","01-19 12:00","01-20 00:00","01-20 12:00"];
const p3TickHours=[-8,4,16,28,40,52];
const p3TickLabels=["01-22 16:00","01-23 04:00","01-23 16:00","01-24 04:00","01-24 16:00","01-25 04:00"];
const p1Midnights=[0,24,48,72,96];
const p2Midnights=[0,24,48,72];
const p3Midnights=[0,24,48];

// ---- axis functions ----
const TOP=130, MID=1601, BOT=3072;
const panels=[
 {id:1,x0:580,x1:2920,t0:671,pph:20.08,clip:"c1",minor:true},
 {id:2,x0:3078,x1:5098,t0:3244,pph:20.03,clip:"c2",minor:false},
 {id:3,x0:5236,x1:6626,t0:5450,pph:20.08,clip:"c3",minor:true}
];
function xOf(p,t){return p.t0+t*p.pph;}
function yNOx(v){return TOP+(700-v)*1.8385;}
function yRatio(r){return 1355-r*245.3;}
function yO3(o){return 1752.5-(o-40)*46.45;}
function yUV(u){return 2806-(u-10)*29.15;}

const NS="http://www.w3.org/2000/svg";
function el(tag,attrs,parent){const e=document.createElementNS(NS,tag);for(const k in attrs)e.setAttribute(k,attrs[k]);parent.appendChild(e);return e;}
function pathD(p,data,yf){let d="",start=true;for(const pt of data){if(pt===null){start=true;continue;}d+=(start?"M":"L")+xOf(p,pt[0]).toFixed(1)+","+yf(pt[1]).toFixed(1);start=false;}return d;}

const seriesG=document.getElementById("series");
const gridG=document.getElementById("grid");
const axesG=document.getElementById("axes");
const legG=document.getElementById("legends");

const C={no2:"#0000ff",no:"#000000",nox:"#00bfbf",ratio:"#ff0000",o3:"#008000",uv:"#ff8c00"};
const panelData=[
 {no2:p1_no2,no:p1_no,nox:p1_nox,ratio:p1_ratio,no2d:p1_no2_d,nod:p1_no_d,noxd:p1_nox_d,ratiod:p1_ratio_d,o3:p1_o3,o3d:p1_o3_d,uv:p1_uv,uvd:p1_uv_d,mid:p1Midnights,th:p1TickHours,tl:p1TickLabels},
 {no2:p2_no2,no:p2_no,nox:p2_nox,ratio:p2_ratio,no2d:p2_no2_d,nod:p2_no_d,noxd:p2_nox_d,ratiod:p2_ratio_d,o3:p2_o3,o3d:p2_o3_d,uv:p2_uv,uvd:p2_uv_d,mid:p2Midnights,th:p2TickHours,tl:p2TickLabels},
 {no2:p3_no2,no:p3_no,nox:p3_nox,ratio:p3_ratio,no2d:p3_no2_d,nod:p3_no_d,noxd:p3_nox_d,ratiod:p3_ratio_d,o3:p3_o3,o3d:p3_o3_d,uv:p3_uv,uvd:p3_uv_d,mid:p3Midnights,th:p3TickHours,tl:p3TickLabels}
];

panels.forEach((p,i)=>{
 const D=panelData[i];
 D.mid.forEach(t=>{
  const x=xOf(p,t);
  const l=el("line",{x1:x,x2:x,y1:TOP,y2:BOT,stroke:"#000","stroke-width":3.5},gridG);
  
  
 });
 const g=el("g",{"clip-path":"url(#"+p.clip+")"},seriesG);
 
 
 const spec=[
  ["no2d",C.no2,yNOx,true,"no2-hourly"],["nod",C.no,yNOx,true,"no-hourly"],["noxd",C.nox,yNOx,true,"nox-hourly"],
  ["no2",C.no2,yNOx,false,"no2-smoothed"],["no",C.no,yNOx,false,"no-smoothed"],["nox",C.nox,yNOx,false,"nox-smoothed"],
  ["ratiod",C.ratio,yRatio,true,"no2-no-ratio-hourly"],["ratio",C.ratio,yRatio,false,"no2-no-ratio-smoothed"],
  ["o3d",C.o3,yO3,true,"o3-hourly"],["o3",C.o3,yO3,false,"o3-smoothed"],
  ["uvd",C.uv,yUV,true,"uv-hourly"],["uv",C.uv,yUV,false,"uv-smoothed"]
 ];
 spec.forEach(s=>{
  const a={d:pathD(p,D[s[0]],s[2]),fill:"none",stroke:s[1],"stroke-width":s[3]?6:16,"stroke-linejoin":"round"};
  if(s[3]){a["stroke-dasharray"]="24,11";}
  const path=el("path",a,g);
  
  
 });
 [TOP,MID,BOT].forEach(y=>{
  const l=el("line",{x1:p.x0,x2:p.x1,y1:y,y2:y,stroke:"#000","stroke-width":4},axesG);
  
  
 });
 const edges=[];
 if(p.id!==1)edges.push(p.x0);
 if(p.id!==3)edges.push(p.x1);
 edges.forEach(x=>{[TOP,MID,BOT].forEach(y=>{
  const l=el("line",{x1:x-22,y1:y+24,x2:x+22,y2:y-24,stroke:"#000","stroke-width":4},axesG);
  
  
 });});
 D.th.forEach((t,k)=>{
  const x=xOf(p,t);
  const tk=el("line",{x1:x,x2:x,y1:BOT,y2:BOT+14,stroke:"#000","stroke-width":3},axesG);
  
  
  const tx=el("text",{x:x-10,y:3290,"font-size":64,"text-anchor":"middle","dominant-baseline":"central",transform:"rotate(-48 "+(x-10)+" 3290)",fill:"#000"},axesG);
  tx.textContent=D.tl[k];
  
  
 });
 if(p.minor){
  for(let t=D.th[0]-24;t<=D.th[D.th.length-1]+24;t+=2.4){
   const x=xOf(p,t);
   if(x<p.x0+2||x>p.x1-2)continue;
   const tk=el("line",{x1:x,x2:x,y1:BOT,y2:BOT+8,stroke:"#000","stroke-width":2.5},axesG);
   
   
  }
 }
});

function vline(x,y1,y2,name){const l=el("line",{x1:x,x2:x,y1:y1,y2:y2,stroke:"#000","stroke-width":4},axesG);}
vline(580,TOP,BOT,'left-spine');
vline(6626,TOP,BOT,'right-spine');

function yTicks(vals,minorStep,lo,hi,yf,x,side,color,name){
 for(let v=lo;v<=hi+1e-9;v+=minorStep){
  const y=yf(v);if(y<TOP-2||y>BOT+2)continue;
  const l=el("line",{x1:x,x2:x+side*8,y1:y,y2:y,stroke:color,"stroke-width":2.5},axesG);
  
  
 }
 vals.forEach(v=>{
  const y=yf(v);
  const l=el("line",{x1:x,x2:x+side*14,y1:y,y2:y,stroke:color,"stroke-width":3},axesG);
  
  
  const t=el("text",{x:side<0?549:6657,y:y,"font-size":104,"text-anchor":side<0?"end":"start","dominant-baseline":"central",fill:color},axesG);
  t.textContent=v<0?"−"+Math.abs(v):String(v);
  
  
 });
}
yTicks(leftTopTicks,50,-100,700,yNOx,580,-1,"#000080","nox-y-axis");
yTicks(rightTopTicks,0.2,-1,5,yRatio,6626,1,"#ff0000","ratio-y-axis");
yTicks(leftBotTicks,2,12,42,yO3,580,-1,"#008000","o3-y-axis");
yTicks(rightBotTicks,2,2,50,yUV,6626,1,"#ff8c00","uv-y-axis");

function legend(x,y,w,h,entries,name){
 const g=el("g",{},legG);
 
 
 el("rect",{x:x,y:y,width:w,height:h,rx:14,fill:"#fff","fill-opacity":0.8,stroke:"#cccccc","stroke-width":4},g);
 entries.forEach(e=>{
  const l=el("line",{x1:e[0],x2:e[0]+232,y1:y+90,y2:y+90,stroke:e[2],"stroke-width":16},g);
  
  
  const t=el("text",{x:e[0]+315,y:y+128,"font-size":112,fill:"#000"},g);
  t.innerHTML=e[1];
  
  
 });
}
legend(856,182,2019,194,[[894,'NO<tspan font-size="78" dy="22">2</tspan>',C.no2],[1620,'NO',C.no],[2309,'NO<tspan font-size="78" font-style="italic" dy="22">x</tspan>',C.nox]],'legend-nox');
legend(3128,184,807,192,[[3162,'NO<tspan font-size="78" dy="22">2</tspan><tspan dy="-22">:NO</tspan>',C.ratio]],'legend-ratio');
legend(2359,1655,516,191,[[2392,'O<tspan font-size="78" dy="22">3</tspan>',C.o3]],'legend-o3');
legend(3128,1655,1117,191,[[3162,'UV radiations',C.uv]],'legend-uv');
</script>
</body></html>
